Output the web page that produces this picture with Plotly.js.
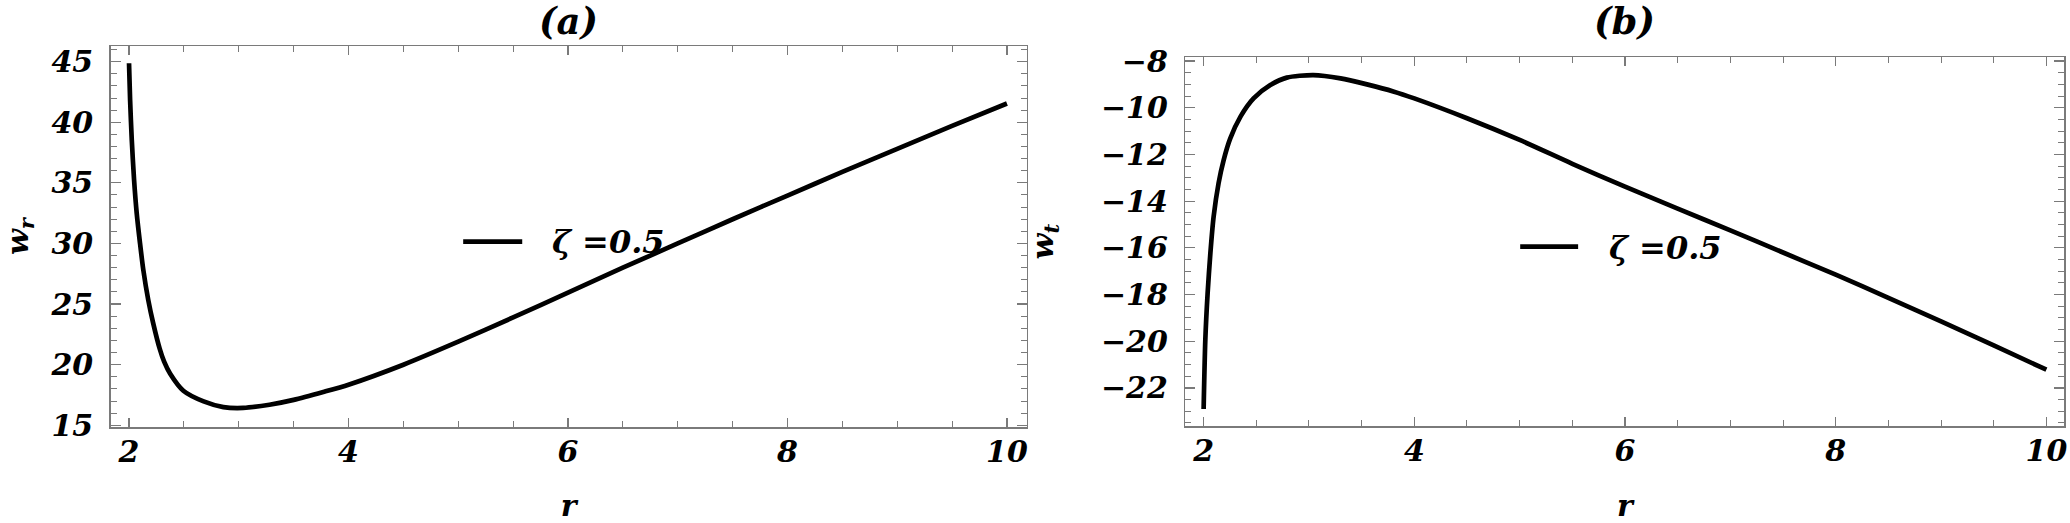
<!DOCTYPE html>
<html><head><meta charset="utf-8">
<script src="https://cdn.plot.ly/plotly-3.0.1.min.js"></script>
<style>html,body{margin:0;padding:0;background:#fff;}#chart{width:2070px;height:523px;}</style>
</head><body><div id="chart"></div>
<script>
// ---- data ----
const rA = [2.0, 2.01, 2.025, 2.046, 2.07, 2.1, 2.13, 2.175, 2.22, 2.28, 2.32, 2.375, 2.495, 2.68, 2.86, 3.04, 3.28, 3.5, 3.77, 4.0, 4.5, 5.0, 5.5, 6.0, 6.5, 7.0, 7.5, 8.0, 8.5, 9.0, 9.5, 10.0];
const wR = [44.87, 41.8, 38.55, 35.25, 32.5, 30.03, 27.83, 25.35, 23.43, 21.3, 20.25, 19.25, 17.85, 16.97, 16.5, 16.43, 16.7, 17.1, 17.75, 18.35, 20.0, 21.9, 23.9, 25.95, 28.0, 30.0, 32.0, 33.95, 35.9, 37.8, 39.7, 41.55];
const rB = [2.0, 2.016, 2.038, 2.064, 2.095, 2.142, 2.19, 2.253, 2.35, 2.474, 2.633, 2.79, 3.04, 3.3, 3.55, 3.8, 4.0, 4.5, 5.0, 5.5, 6.0, 6.5, 7.0, 7.5, 8.0, 8.5, 9.0, 9.5, 10.0];
const wT = [-22.9, -19.94, -17.94, -16.23, -14.66, -13.23, -12.24, -11.31, -10.38, -9.6, -9.03, -8.71, -8.6, -8.74, -9.0, -9.3, -9.6, -10.45, -11.38, -12.4, -13.38, -14.32, -15.25, -16.2, -17.15, -18.14, -19.15, -20.18, -21.22];
const xTickVals = [2, 4, 6, 8, 10];
const yTickValsA = [15, 20, 25, 30, 35, 40, 45];
const yTickValsB = [-22, -20, -18, -16, -14, -12, -10, -8];
const seriesName = 'ζ =0.5';
const panelTitles = ['(a)', '(b)'];
const xTitle = 'r';
const yTitleA = 'w<sub>r</sub>';
const yTitleB = 'w<sub>t</sub>';

// ---- layout geometry (pixels in the 2070x523 frame) ----
const W = 2070, H = 523;
const boxA = {l: 110.7, r: 1026.7, t: 46, b: 427};
const boxB = {l: 1185.3, r: 2064.3, t: 57.3, b: 426};

const font = {family: 'DejaVu Serif', size: 30, color: '#000', weight: 'bold', style: 'italic'};
const legendFont = Object.assign({}, font, {size: 32});
const titleFont = Object.assign({}, font, {size: 37});
const frameCol = '#7a7a7a';

function axisX(box, range, title) {
  return {
    domain: [box.l / W, box.r / W], range: range, autorange: false,
    showline: true, linecolor: frameCol, linewidth: 1.5, mirror: 'allticks',
    ticks: 'inside', ticklen: 9, tickwidth: 1.2, tickcolor: frameCol,
    tickvals: xTickVals, tickfont: font, ticklabelstandoff: -3,
    minor: {dtick: 0.5, tick0: 2, ticks: 'inside', ticklen: 6, tickwidth: 1, tickcolor: frameCol, showgrid: false},
    showgrid: false, zeroline: false,
    title: {text: title, font: font, standoff: 52}
  };
}
function axisY(box, range, vals, minorStep, title, so) {
  return {
    domain: [1 - box.b / H, 1 - box.t / H], range: range, autorange: false,
    showline: true, linecolor: frameCol, linewidth: 1.5, mirror: 'allticks',
    ticks: 'inside', ticklen: 10, tickwidth: 1.2, tickcolor: frameCol,
    tickvals: vals, tickfont: font, ticklabelstandoff: 10,
    minor: {dtick: minorStep, ticks: 'inside', ticklen: 6, tickwidth: 1, tickcolor: frameCol, showgrid: false},
    showgrid: false, zeroline: false,
    title: {text: title, font: font, standoff: so}
  };
}

const traces = [
  {x: rA, y: wR, xaxis: 'x', yaxis: 'y', type: 'scatter', mode: 'lines', name: seriesName,
   line: {color: '#000', width: 4.7, shape: 'spline', smoothing: 0.7}, showlegend: false},
  {x: rB, y: wT, xaxis: 'x2', yaxis: 'y2', type: 'scatter', mode: 'lines', name: seriesName,
   line: {color: '#000', width: 4.7, shape: 'spline', smoothing: 0.7}, showlegend: false}
];

const layout = {
  width: W, height: H, margin: {l: 0, r: 0, t: 0, b: 0},
  paper_bgcolor: '#fff', plot_bgcolor: '#fff', showlegend: false,
  xaxis: axisX(boxA, [1.833, 10.18], xTitle),
  yaxis: axisY(boxA, [14.86, 46.29], yTickValsA, 1, yTitleA, 24),
  xaxis2: Object.assign(axisX(boxB, [1.826, 10.17], xTitle), {anchor: 'y2'}),
  yaxis2: Object.assign(axisY(boxB, [-23.63, -7.84], yTickValsB, 0.5, yTitleB, 38), {anchor: 'x2'}),
  shapes: [
    {type: 'line', xref: 'x', yref: 'y', x0: 5.045, x1: 5.583, y0: 30.16, y1: 30.16, line: {color: '#000', width: 4.7}},
    {type: 'line', xref: 'x2', yref: 'y2', x0: 5.005, x1: 5.555, y0: -15.95, y1: -15.95, line: {color: '#000', width: 4.7}}
  ],
  annotations: [
    {xref: 'x', yref: 'y', x: 6.37, y: 30.1, text: seriesName, showarrow: false, font: legendFont, xanchor: 'center', yanchor: 'middle'},
    {xref: 'x2', yref: 'y2', x: 6.38, y: -16.0, text: seriesName, showarrow: false, font: legendFont, xanchor: 'center', yanchor: 'middle'},
    {xref: 'paper', yref: 'paper', x: (boxA.l + boxA.r) / 2 / W, y: 1 - 21 / H, text: panelTitles[0], showarrow: false, font: titleFont, xanchor: 'center', yanchor: 'middle'},
    {xref: 'paper', yref: 'paper', x: (boxB.l + boxB.r) / 2 / W, y: 1 - 21 / H, text: panelTitles[1], showarrow: false, font: titleFont, xanchor: 'center', yanchor: 'middle'}
  ]
};

Plotly.newPlot('chart', traces, layout, {staticPlot: true, displayModeBar: false});
</script>
</body></html>
